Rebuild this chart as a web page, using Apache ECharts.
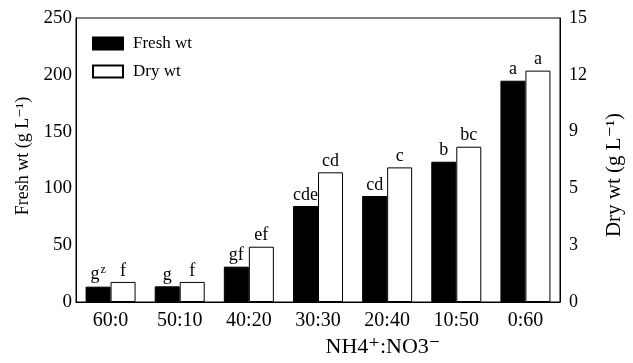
<!DOCTYPE html>
<html><head><meta charset="utf-8">
<script src="https://cdn.jsdelivr.net/npm/echarts@6/dist/echarts.min.js"></script>
<style>html,body{margin:0;padding:0;background:#fff}#c{width:633px;height:363px}</style>
</head><body><div id="c"></div>
<script>
const categories = ['60:0','50:10','40:20','30:30','20:40','10:50','0:60'];
const freshWt = [13.5, 13.8, 31.1, 84.5, 93.3, 123.5, 194.8];
const dryWt = [1.06, 1.06, 2.92, 6.85, 7.11, 8.2, 12.22];
const freshLetters = ['g{sup|z}','g','gf','cde','cd','b','a'];
const dryLetters = ['f','f','ef','cd','c','bc','a'];
const rightTickLabels = ['0','3','5','9','12','15'];

const F = '"Liberation Serif", "DejaVu Serif", serif';
const chart = echarts.init(document.getElementById('c'));
chart.setOption({
  animation:false,
  textStyle:{fontFamily:F,color:'#000'},
  grid:{left:76,right:65,top:18,bottom:61,show:true,borderColor:'#000',borderWidth:1},
  legend:{orient:'vertical',left:87,top:30,itemWidth:30,itemHeight:12,itemGap:11,icon:'rect',
    textStyle:{fontFamily:F,fontSize:17,color:'#000',padding:[0,0,0,5]},
    data:['Fresh wt','Dry wt']},
  xAxis:{type:'category',data:categories,
    axisLine:{lineStyle:{color:'#000'}},axisTick:{show:false},
    axisLabel:{fontFamily:F,fontSize:20,color:'#000',margin:9},
    name:'NH4\u207A:NO3\u207B',nameLocation:'middle',nameGap:33,
    nameTextStyle:{fontFamily:F,fontSize:22,color:'#000',padding:[0,0,0,130]}},
  yAxis:[
    {type:'value',min:0,max:250,interval:50,splitLine:{show:false},
     axisLine:{show:true,lineStyle:{color:'#000'}},axisTick:{show:false},
     axisLabel:{fontFamily:F,fontSize:19,color:'#000',margin:4},
     name:'Fresh wt (g L\u207B\u00B9)',nameLocation:'middle',nameGap:43,nameRotate:90,
     nameTextStyle:{fontFamily:F,fontSize:18,color:'#000',padding:[0,0,0,8]}},
    {type:'value',min:0,max:15,interval:3,splitLine:{show:false},
     axisLine:{show:true,lineStyle:{color:'#000'}},axisTick:{show:false},
     axisLabel:{fontFamily:F,fontSize:18,color:'#000',margin:9,
       formatter:function(v){return rightTickLabels[Math.round(v/3)];}},
     name:'Dry wt (g L\u207B\u00B9)',nameLocation:'middle',nameGap:44,nameRotate:90,
     nameTextStyle:{fontFamily:F,fontSize:21,color:'#000',padding:[0,30,0,0]}}
  ],
  series:[
    {name:'Fresh wt',type:'bar',yAxisIndex:0,data:freshWt,barWidth:25,barGap:'0%',
     itemStyle:{color:'#000',borderColor:'#000',borderWidth:1},
     label:{show:true,position:'top',distance:2,fontFamily:F,fontSize:18,color:'#000',
       formatter:function(p){return freshLetters[p.dataIndex];},
       rich:{sup:{fontFamily:F,fontSize:12,verticalAlign:'top',color:'#000',padding:[0,0,9,1]}}}},
    {name:'Dry wt',type:'bar',yAxisIndex:1,data:dryWt,barWidth:25,barGap:'0%',
     itemStyle:{color:'#fff',borderColor:'#000',borderWidth:1},
     label:{show:true,position:'top',distance:2,fontFamily:F,fontSize:18,color:'#000',
       formatter:function(p){return dryLetters[p.dataIndex];}}}
  ]
});
</script></body></html>
